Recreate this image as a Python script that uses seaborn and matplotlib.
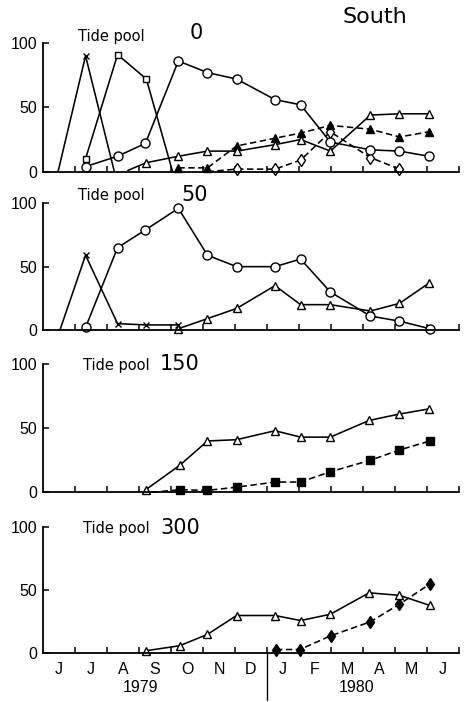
import numpy as np
import pandas as pd
import matplotlib
matplotlib.use("Agg")
import matplotlib.pyplot as plt
import seaborn as sns
from matplotlib.lines import Line2D

sns.set_style("ticks")
plt.rcParams['font.family'] = ['DejaVu Sans']
plt.rcParams['text.color'] = 'black'
plt.rcParams['axes.edgecolor'] = 'black'
plt.rcParams['xtick.color'] = 'black'
plt.rcParams['ytick.color'] = 'black'
plt.rcParams['axes.labelcolor'] = 'black'

# ---------------- data ----------------
month_labels = ["J", "J", "A", "S", "O", "N", "D", "J", "F", "M", "A", "M", "J"]
year_labels = ["1979", "1980"]
pool_names = ["0", "50", "150", "300"]
region_label = "South"

# Tide pool 0
tp0_cross_x = [0.47, 1.33, 2.23]
tp0_cross_y = [0, 90, 0]
tp0_square_x = [1.33, 2.33, 3.23, 4.05]
tp0_square_y = [10, 91, 72, 0]
tp0_circle_x = [1.33, 2.33, 3.2, 4.23, 5.14, 6.05, 7.25, 8.05, 8.98, 10.23, 11.14, 12.06]
tp0_circle_y = [4, 12, 22, 86, 77, 72, 56, 52, 23, 17, 16, 12]
tp0_tri_x = [2.65, 3.23, 4.23, 5.14, 6.05, 7.25, 8.05, 8.98, 10.23, 11.14, 12.06]
tp0_tri_y = [1, 7, 12, 16, 16, 21, 25, 16, 44, 45, 45]
tp0_ftri_x = [4.23, 5.14, 6.05, 7.25, 8.05, 8.98, 10.23, 11.14, 12.06]
tp0_ftri_y = [3, 3, 20, 26, 30, 36, 33, 27, 31]
tp0_dia_x = [5.14, 6.05, 7.25, 8.05, 8.98, 10.23, 11.14]
tp0_dia_y = [0, 2, 2, 9, 31, 11, 2]

# Tide pool 50
tp50_cross_x = [0.53, 1.33, 2.33, 3.23, 4.23]
tp50_cross_y = [0, 59, 5, 4, 4]
tp50_circle_x = [1.33, 2.33, 3.2, 4.23, 5.14, 6.05, 7.25, 8.05, 8.98, 10.23, 11.14, 12.09]
tp50_circle_y = [2, 65, 79, 96, 59, 50, 50, 56, 30, 11, 7, 1]
tp50_tri_x = [4.23, 5.14, 6.05, 7.25, 8.05, 8.98, 10.23, 11.14, 12.06]
tp50_tri_y = [1, 9, 17, 35, 20, 20, 15, 21, 37]

# Tide pool 150
tp150_tri_x = [3.21, 4.27, 5.14, 6.05, 7.25, 8.05, 8.98, 10.19, 11.14, 12.06]
tp150_tri_y = [2, 21, 40, 41, 48, 43, 43, 56, 61, 65]
tp150_fsq_x = [3.4, 4.27, 5.14, 6.05, 7.25, 8.05, 8.98, 10.23, 11.14, 12.09]
tp150_fsq_y = [0, 2, 1.5, 4, 8, 8, 16, 25, 33, 40]

# Tide pool 300
tp300_tri_x = [3.21, 4.27, 5.14, 6.05, 7.25, 8.05, 8.98, 10.19, 11.14, 12.09]
tp300_tri_y = [2, 6, 15, 30, 30, 26, 31, 48, 46, 38]
tp300_fdia_x = [7.28, 8.03, 9.0, 10.23, 11.14, 12.09]
tp300_fdia_y = [3, 3, 14, 25, 39, 55]

# ---------------- figure ----------------
W, H = 468, 702
fig = plt.figure(figsize=(W / 100, H / 100), dpi=100)


def frac_axes(top_px, bottom_px, left_px=43, right_px=459):
    return fig.add_axes([left_px / W, 1 - bottom_px / H,
                         (right_px - left_px) / W, (bottom_px - top_px) / H])


axes = [frac_axes(43, 171.7), frac_axes(203.3, 330), frac_axes(364, 492.3), frac_axes(527.3, 653.3)]

DASH = (0, (4, 2.2))


def draw(ax, x, y, marker, filled=False, dashed=False, markevery=None, ms=5.5):
    df = pd.DataFrame({"x": x, "y": y})
    kw = dict(marker=marker, markersize=ms, markeredgecolor="black",
              markerfacecolor="black" if filled else "white",
              markeredgewidth=1.0, color="black", linewidth=1.15,
              clip_on=False)
    if dashed:
        kw["linestyle"] = DASH
    if markevery is not None:
        kw["markevery"] = markevery
    sns.lineplot(data=df, x="x", y="y", ax=ax, sort=False, estimator=None, **kw)


# Panel 1
ax = axes[0]
draw(ax, tp0_dia_x, tp0_dia_y, "d", dashed=True, markevery=list(range(1, len(tp0_dia_x))), ms=6.5)
draw(ax, tp0_ftri_x, tp0_ftri_y, "^", filled=True, dashed=True, ms=5.5)
draw(ax, tp0_tri_x, tp0_tri_y, "^", markevery=list(range(1, len(tp0_tri_x))), ms=5.5)
draw(ax, tp0_cross_x, tp0_cross_y, "x", markevery=[1], ms=4)
draw(ax, tp0_square_x, tp0_square_y, "s", markevery=[0, 1, 2], ms=5)
draw(ax, tp0_circle_x, tp0_circle_y, "o", ms=6.5)

# Panel 2
ax = axes[1]
draw(ax, tp50_cross_x, tp50_cross_y, "x", markevery=[1, 2, 3, 4], ms=4)
draw(ax, tp50_tri_x, tp50_tri_y, "^", ms=5.5)
draw(ax, tp50_circle_x, tp50_circle_y, "o", ms=6.5)

# Panel 3
ax = axes[2]
draw(ax, tp150_fsq_x, tp150_fsq_y, "s", filled=True, dashed=True,
     markevery=list(range(1, len(tp150_fsq_x))), ms=5.5)
draw(ax, tp150_tri_x, tp150_tri_y, "^", ms=5.5)

# Panel 4
ax = axes[3]
draw(ax, tp300_fdia_x, tp300_fdia_y, "d", filled=True, dashed=True, ms=6.5)
draw(ax, tp300_tri_x, tp300_tri_y, "^", ms=5.5)

for i, ax in enumerate(axes):
    ax.set_xlim(0, 13)
    ax.set_ylim(0, 100)
    ax.set_yticks([0, 50, 100])
    ax.set_yticklabels(["0", "50", "100"])
    ax.set_xticks(range(1, 14))
    ax.set_xticklabels([])
    ax.set_xlabel("")
    ax.set_ylabel("")
    ax.tick_params(axis="both", which="major", direction="in", length=4.5,
                   width=1.1, labelsize=11.5, pad=4, colors="black")
    for lab in ax.get_yticklabels():
        lab.set_fontfamily("Liberation Sans")
    sns.despine(ax=ax)
    ax.spines["left"].set_linewidth(1.3)
    ax.spines["bottom"].set_linewidth(1.3)
    ax.spines["left"].set_color("black")
    ax.spines["bottom"].set_color("black")
    ax.patch.set_alpha(0)

# month labels on bottom panel
ax = axes[3]
ax.set_xticks(np.arange(13) + 0.5, minor=True)
ax.set_xticklabels(month_labels, minor=True)
ax.tick_params(axis="x", which="minor", length=0, labelsize=11.5, pad=6, colors="black")
for lab in ax.get_xticklabels(minor=True):
    lab.set_fontfamily("Liberation Sans")

# year labels and divider
fig.text(140 / W, 1 - 687 / H, year_labels[0], ha="center", va="center",
         fontsize=11.5, fontfamily="Liberation Sans", color="black")
fig.text(357 / W, 1 - 687 / H, year_labels[1], ha="center", va="center",
         fontsize=11.5, fontfamily="Liberation Sans", color="black")
fig.add_artist(Line2D([267 / W, 267 / W], [1 - 653 / H, 1 - 700 / H],
                      color="black", linewidth=1.0))

# panel titles
title_pos = [(78, 40.5, 190, 39), (78, 200, 181, 201), (83, 370, 160, 370.5), (83, 533, 160, 534)]
for name, (tx, ty, nx, ny) in zip(pool_names, title_pos):
    fig.text(tx / W, 1 - ty / H, "Tide pool", ha="left", va="baseline", fontsize=10.5, color="black")
    fig.text(nx / W, 1 - ny / H, name, ha="left", va="baseline", fontsize=15, color="black")

fig.text(343 / W, 1 - 23 / H, region_label, ha="left", va="baseline", fontsize=16, color="black")

fig.savefig("out.png", dpi=100)
